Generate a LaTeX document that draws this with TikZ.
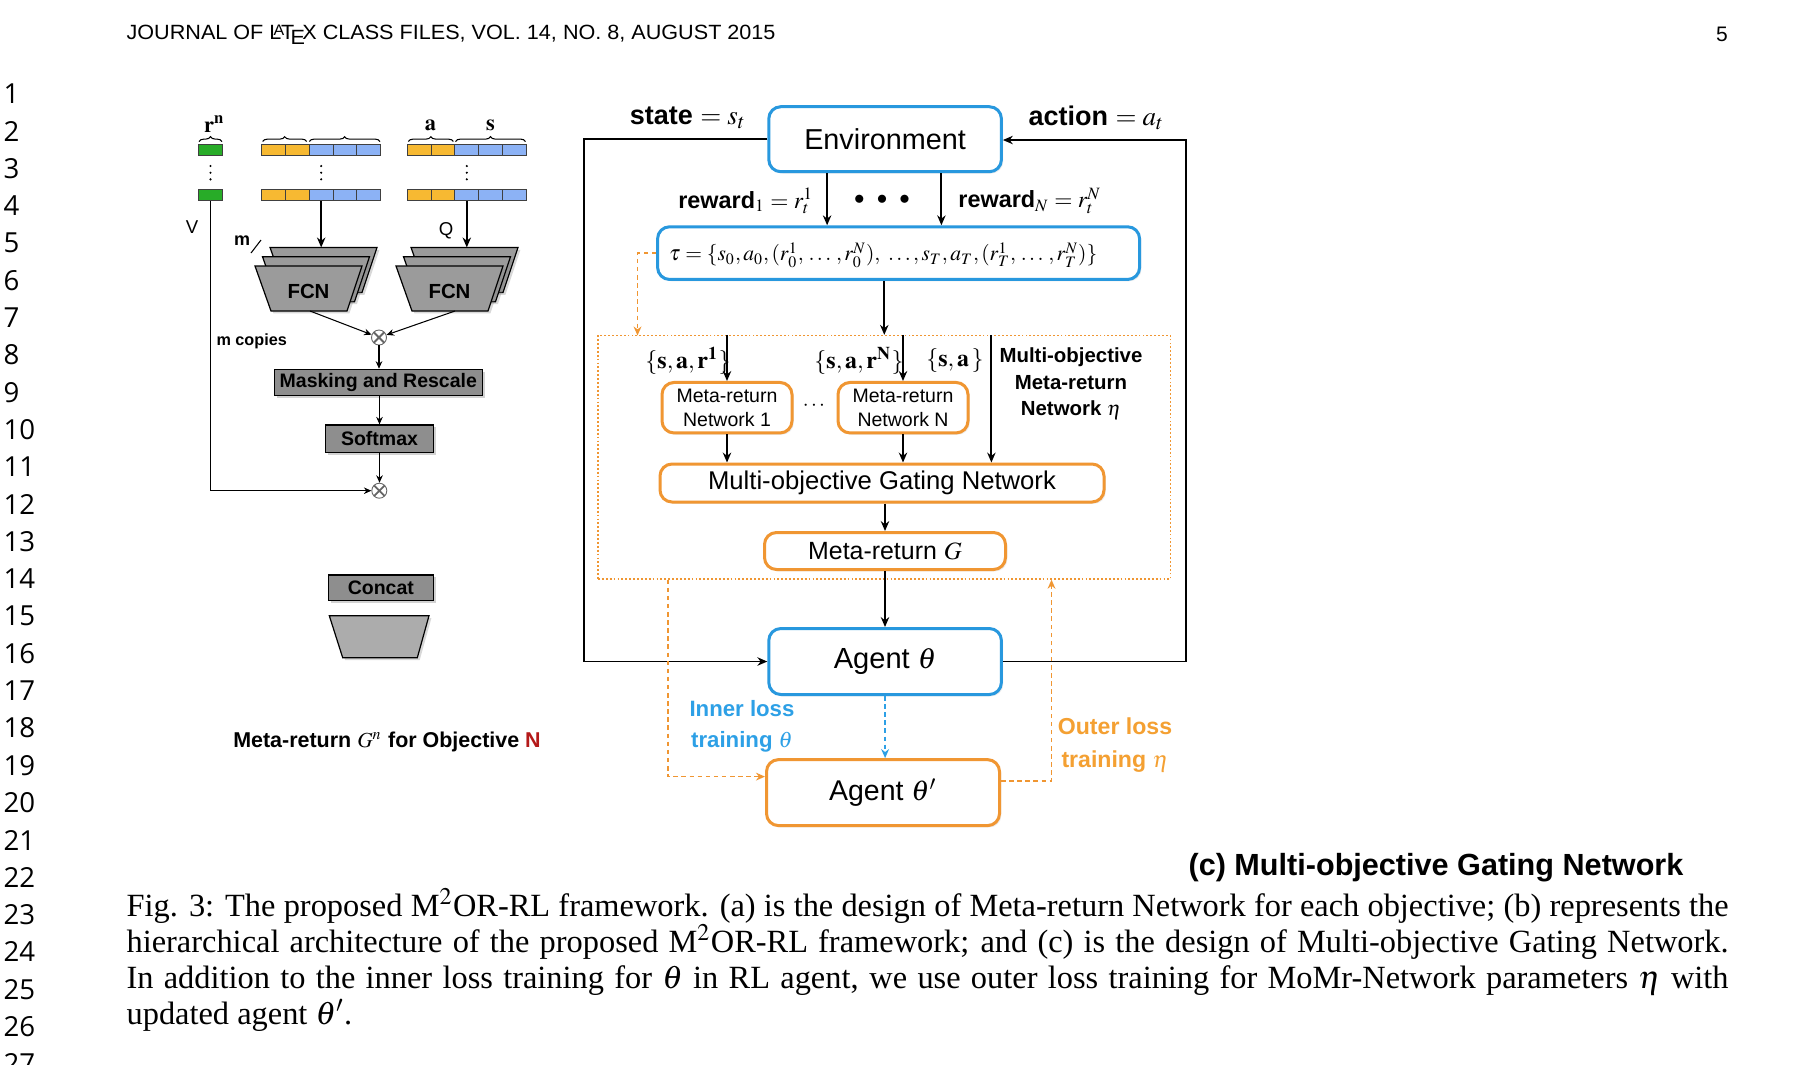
\documentclass[tikz,border=0pt]{standalone}
\usepackage{mathptmx}
\usepackage{graphicx}
\usepackage{fontspec}
\setmainfont{Liberation Serif}
\newfontfamily\hv{Liberation Sans}
\newfontfamily\tms{Liberation Serif}
\newfontfamily\lnf{Open Sans}
\usetikzlibrary{arrows.meta,shadows,decorations.pathreplacing,calc}
\newlength{\pxu}\setlength{\pxu}{0.33333pt}
\definecolor{eblue}{RGB}{40,152,222}
\definecolor{eorange}{RGB}{240,150,50}
\definecolor{tblue}{RGB}{45,160,230}
\definecolor{torange}{RGB}{244,160,50}
\definecolor{colbox}{RGB}{142,142,142}
\definecolor{colfcn}{RGB}{155,155,155}
\definecolor{coltrap}{RGB}{172,172,172}
\definecolor{cgreen}{RGB}{40,172,40}
\definecolor{corange}{RGB}{247,185,50}
\definecolor{cblue}{RGB}{140,178,245}
\definecolor{nred}{RGB}{180,25,25}
\tikzset{
  rbox/.style={draw=eblue, line width=1pt, rounded corners=4pt, fill=white, inner sep=0pt,
    drop shadow={opacity=0.15, shadow xshift=0.6pt, shadow yshift=-0.6pt}},
  obox/.style={rbox, draw=eorange},
  graybox/.style={draw=black, line width=0.4pt, fill=colbox, inner sep=0pt,
    drop shadow={opacity=0.35, shadow xshift=0.8pt, shadow yshift=-0.8pt},
    font=\hv\bfseries\fontsize{6.5}{7}\selectfont},
  fcnsty/.style={draw=black, line width=0.4pt, fill=colfcn,
    drop shadow={opacity=0.3, shadow xshift=0.8pt, shadow yshift=-0.8pt}},
  arr/.style={-{Stealth[length=3.3pt,width=2.8pt]}, line width=0.65pt},
  thinarr/.style={-{Stealth[length=2.5pt,width=2.2pt]}, line width=0.35pt},
  odash/.style={draw=eorange, line width=0.5pt, dash pattern=on 1.5pt off 1.2pt,
    -{Stealth[length=3pt,width=2.6pt]}},
  bdash/.style={draw=tblue, line width=0.5pt, dash pattern=on 1.5pt off 1.2pt,
    -{Stealth[length=3pt,width=2.6pt]}},
  dotbox/.style={draw=eorange, line width=0.45pt, dash pattern=on 0.6pt off 0.7pt, inner sep=0pt},
  cell/.style={draw=black!75, line width=0.3pt, minimum width=23.8\pxu, minimum height=11.4\pxu, inner sep=0pt},
  otimesnode/.style={circle, draw=black!60, line width=0.3pt, fill=white, minimum size=15\pxu, inner sep=0pt,
    path picture={\draw[line width=0.6pt] (path picture bounding box.south west) -- (path picture bounding box.north east)
      (path picture bounding box.north west) -- (path picture bounding box.south east);}},
  bracesty/.style={decorate, decoration={brace, amplitude=1.6pt}, line width=0.35pt},
}
\begin{document}
\begin{tikzpicture}[x=\pxu, y=-\pxu]
\useasboundingbox (0,0) rectangle (1796,1064);
\fill[white] (0,0) rectangle (1796,1064);

% ---------- page furniture ----------
\node[anchor=west, font=\hv, inner sep=0pt] (hdr) at (126,35)
  {\resizebox{216.3pt}{4.8pt}{JOURNAL OF \LaTeX\ CLASS FILES, VOL. 14, NO. 8, AUGUST 2015}};
\node[font=\hv\fontsize{7}{8}\selectfont, inner sep=0pt] (pgno) at (1722,34) {5};
\foreach \n in {1,...,27}
  \node[anchor=west, font=\lnf\fontsize{9.2}{10}\selectfont, inner sep=0pt] (ln\n) at (3,{94+(\n-1)*37.3}) {\n};

% ---------- (a) Meta-return network ----------
\foreach \row/\yy in {t/150, b/195} {
  \node[cell, fill=cgreen, minimum width=24.4\pxu] (g\row) at (210.5,\yy) {};
  \foreach \i/\c in {1/corange,2/corange,3/cblue,4/cblue,5/cblue} {
    \node[cell, fill=\c] (m\row\i) at ({261.7+(\i-0.5)*23.8},\yy) {};
    \node[cell, fill=\c] (q\row\i) at ({407.3+(\i-0.5)*23.8},\yy) {};
  }
}
\foreach \xx in {210.5,321.2,466.8}
  \foreach \yy in {166,172.7,179.3}
    \fill (\xx,\yy) circle[radius=0.4pt];
\draw[bracesty] (199,141.5) -- (222,141.5);
\draw[bracesty] (262.7,141.5) -- (306.7,141.5);
\draw[bracesty] (309.3,141.5) -- (380,141.5);
\draw[bracesty] (408.3,141.5) -- (453.3,141.5);
\draw[bracesty] (455.5,141.5) -- (525.5,141.5);
\node[font=\fontsize{7.5}{8}\selectfont] (lrn) at (214.5,124) {$\mathbf{r}^{\mathbf{n}}$};
\node[font=\fontsize{7.5}{8}\selectfont] (la) at (430.5,125) {$\mathbf{a}$};
\node[font=\fontsize{7.5}{8}\selectfont] (ls) at (490.5,125) {$\mathbf{s}$};

% FCN stacks
\foreach \sx in {0,141} {
  \foreach \k in {2,1,0} {
    \filldraw[fcnsty, shift={({\sx+7.5*\k},{-9.3*\k})}] (255,266) -- (362,266) -- (347,311) -- (271,311) -- cycle;
  }
}
\node[font=\hv\bfseries\fontsize{6.8}{8}\selectfont] (fcnL) at (308.5,291) {FCN};
\node[font=\hv\bfseries\fontsize{6.8}{8}\selectfont] (fcnR) at (449.5,291) {FCN};
\coordinate (fLtop) at (321.2,247.4);
\coordinate (fRtop) at (466.8,247.4);
\coordinate (fLbot) at (310,311);
\coordinate (fRbot) at (455,311);

\node[font=\hv\fontsize{6.2}{7}\selectfont] (lV) at (192,227) {V};
\node[font=\hv\fontsize{6.2}{7}\selectfont] (lQ) at (446,231) {Q};
\node[font=\hv\bfseries\fontsize{6}{7}\selectfont] (lm) at (242,241) {m};
\draw[line width=0.35pt] (251,253) -- (261,240);
\node[anchor=west, font=\hv\bfseries\fontsize{5.4}{6}\selectfont, inner sep=0pt] (mcop) at (216,341.7) {m copies};

\node[otimesnode] (ox1) at (379,337.5) {};
\node[graybox, minimum width=208\pxu, minimum height=26.4\pxu] (mask) at (378.3,382.5) {Masking and Rescale};
\node[graybox, minimum width=107.6\pxu, minimum height=27.7\pxu] (soft) at (379.5,438.8) {Softmax};
\node[otimesnode] (ox2) at (379.3,490.7) {};
\node[graybox, minimum width=105\pxu, minimum height=25.7\pxu] (concat) at (380.8,587.8) {Concat};
\filldraw[fcnsty, fill=coltrap] (329.3,615.7) -- (429,615.7) -- (417.3,657.7) -- (342.7,657.7) -- cycle;
\node[font=\hv\bfseries\fontsize{7.15}{8}\selectfont] (capa) at (387,741.7)
  {Meta-return $G^n$ for Objective \textcolor{nred}{N}};

\draw[arr, line width=0.55pt] (mb3.south) -- (fLtop);
\draw[arr, line width=0.55pt] (qb3.south) -- (fRtop);
\draw[thinarr] (fLbot) -- (ox1);
\draw[thinarr] (fRbot) -- (ox1);
\draw[thinarr] (ox1) -- (ox1 |- mask.north);
\draw[thinarr] (mask.south -| soft.north) -- (soft.north);
\draw[thinarr] (soft.south) -- (soft.south |- ox2.north);
\draw[thinarr] (gb.south) |- (ox2);

% ---------- (c) Multi-objective gating network ----------
\node[rbox, minimum width=232.6\pxu, minimum height=65\pxu, font=\hv\fontsize{9.6}{11}\selectfont] (env) at (885.1,139.2) {Environment};
\node[rbox, minimum width=482\pxu, minimum height=52.7\pxu] (tau) at (898.6,253.1) {};
\node (taut) at (883.3,255)
  {\resizebox{142.7pt}{!}{$\tau = \{s_0, a_0, (r_0^1,\,\dots\,,r_0^N),\ \dots, s_T, a_T, (r_T^1,\,\dots\,,r_T^N)\}$}};
\node[dotbox, minimum width=572.6\pxu, minimum height=243.5\pxu] (mo) at (884.3,457.25) {};
\node[obox, minimum width=130\pxu, minimum height=50.5\pxu, align=center, font=\hv\fontsize{6.5}{8}\selectfont] (mrn1) at (727,407.7) {Meta-return\\Network 1};
\node[obox, minimum width=130\pxu, minimum height=50.5\pxu, align=center, font=\hv\fontsize{6.5}{8}\selectfont] (mrnN) at (903,407.7) {Meta-return\\Network N};
\node[font=\fontsize{7}{8}\selectfont] (ldots2) at (814,406) {$\cdots$};
\node[obox, minimum width=444\pxu, minimum height=38\pxu, font=\hv\fontsize{8.55}{10}\selectfont] (gate) at (882,483) {Multi-objective Gating Network};
\node[obox, minimum width=241\pxu, minimum height=37\pxu, font=\hv\fontsize{8.3}{10}\selectfont] (mrG) at (885,551) {Meta-return $G$};
\node[rbox, minimum width=232.6\pxu, minimum height=66\pxu, font=\hv\fontsize{9.7}{11}\selectfont] (agent) at (885.1,661.5) {Agent $\theta$};
\node[obox, minimum width=233\pxu, minimum height=66\pxu, font=\hv\fontsize{9.5}{11}\selectfont] (agentp) at (883,792.6) {Agent $\theta'$};

\node[font=\hv\bfseries\fontsize{9}{10}\selectfont] (lstate) at (688,118) {state $= s_t$};
\node[font=\hv\bfseries\fontsize{9}{10}\selectfont] (lact) at (1096.5,118) {action $= a_t$};
\node[font=\hv\bfseries\fontsize{7.8}{9}\selectfont] (lr1) at (746,201) {reward$_1 = r_t^1$};
\node[font=\fontsize{7}{8}\selectfont] (ldots) at (882,200) {$\bullet\;\;\bullet\;\;\bullet$};
\node[font=\hv\bfseries\fontsize{7.8}{9}\selectfont] (lrN) at (1030,201) {reward$_N = r_t^N$};
\node[font=\fontsize{8}{9}\selectfont] (s1) at (688,361) {$\{\mathbf{s},\mathbf{a},\mathbf{r}^{\mathbf{1}}\}$};
\node[font=\fontsize{8}{9}\selectfont] (sN) at (859,361) {$\{\mathbf{s},\mathbf{a},\mathbf{r}^{\mathbf{N}}\}$};
\node[font=\fontsize{8}{9}\selectfont] (sa) at (955,361) {$\{\mathbf{s},\mathbf{a}\,\}$};
\node[font=\hv\bfseries\fontsize{6.8}{8.8}\selectfont, align=center] (molab) at (1071,384) {Multi-objective\\Meta-return\\Network $\eta$};
\node[font=\hv\bfseries\fontsize{7.4}{10.3}\selectfont, text=tblue, align=center] (inner) at (742,726) {Inner loss\\training $\theta$};
\node[font=\hv\bfseries\fontsize{7.7}{10.8}\selectfont, text=torange, align=center] (outer) at (1115,745) {Outer loss\\training $\eta$};

\coordinate (r1x) at (827.1,0);
\coordinate (rNx) at (941.4,0);
\coordinate (mox) at (991.4,0);
\coordinate (sl) at (584.3,661.5);
\coordinate (ar) at (1186.3,140);
\coordinate (ol) at (637.5,335.5);
\coordinate (ll) at (667.8,776.6);
\coordinate (rr) at (1051.5,781);

\draw[arr] (env.south -| r1x) -- (tau.north -| r1x);
\draw[arr] (env.south -| rNx) -- (tau.north -| rNx);
\draw[arr] (mo.north |- tau.south) -- (mo.north);
\draw[arr] (mo.north -| mrn1.north) -- (mrn1.north);
\draw[arr] (mo.north -| mrnN.north) -- (mrnN.north);
\draw[arr] (mo.north -| mox) -- (gate.north -| mox);
\draw[arr] (mrn1.south) -- (mrn1.south |- gate.north);
\draw[arr] (mrnN.south) -- (mrnN.south |- gate.north);
\draw[arr] (gate.south -| mrG.north) -- (mrG.north);
\draw[arr] (mrG.south) -- (mrG.south |- agent.north);
\draw[bdash] (agent.south) -- (agent.south |- agentp.north);
\draw[arr] (env.west) -| (sl) -- (agent.west);
\draw[arr] (agent.east) -| (ar) -- (env.east |- ar);
\draw[odash] (tau.west) -| (ol);
\draw[odash] (mo.south -| ll) -- (ll) -- (agentp.west |- ll);
\draw[odash] (agentp.east |- rr) -- (rr) -- (mo.south -| rr);

\node[anchor=west, font=\hv\bfseries\fontsize{10.2}{12}\selectfont, inner sep=0pt] (capc) at (1188,868) {(c) Multi-objective Gating Network};

% ---------- caption ----------
\begin{scope}[every node/.style={anchor=base west, inner sep=0pt, font=\tms\fontsize{10.8}{12}\selectfont}]
\node (cap1) at (126,916) {\makebox[534pt][s]{Fig. 3: The proposed M$^2$OR-RL framework. (a) is the design of Meta-return Network for each objective; (b) represents the}};
\node (cap2) at (126,952) {\makebox[534pt][s]{hierarchical architecture of the proposed M$^2$OR-RL framework; and (c) is the design of Multi-objective Gating Network.}};
\node (cap3) at (126,988) {\makebox[534pt][s]{In addition to the inner loss training for $\theta$ in RL agent, we use outer loss training for MoMr-Network parameters $\eta$ with}};
\node (cap4) at (126,1024) {updated agent $\theta'$.};
\end{scope}
\end{tikzpicture}
\end{document}
